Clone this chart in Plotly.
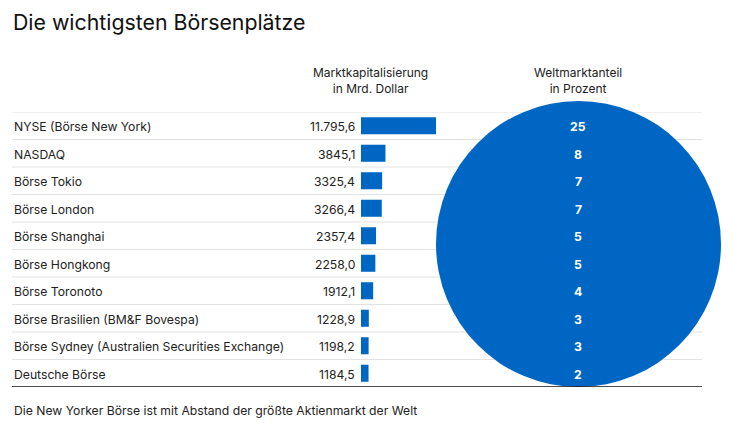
import plotly.graph_objects as go

W, H = 734, 429

boersen = ["NYSE (Börse New York)", "NASDAQ", "Börse Tokio", "Börse London",
           "Börse Shanghai", "Börse Hongkong", "Börse Toronoto",
           "Börse Brasilien (BM&F Bovespa)",
           "Börse Sydney (Australien Securities Exchange)", "Deutsche Börse"]
kapital = [11795.6, 3845.1, 3325.4, 3266.4, 2357.4, 2258.0, 1912.1, 1228.9, 1198.2, 1184.5]
kapital_labels = ["11.795,6", "3845,1", "3325,4", "3266,4", "2357,4", "2258,0",
                  "1912,1", "1228,9", "1198,2", "1184,5"]
anteil = [25, 8, 7, 7, 5, 5, 4, 3, 3, 2]

BLUE = "#0066c3"
FONT = "Inter"
FS = 12.2

def px(x):
    return x / W

def py(y):
    return 1 - y / H

rows = list(range(len(boersen)))
top_px, bot_px = 112, 387

fig = go.Figure()
fig.add_trace(go.Bar(
    x=kapital, y=rows, orientation="h", marker=dict(color=BLUE, line_width=0),
    width=0.62, hoverinfo="skip", showlegend=False))

fig.update_layout(
    width=W, height=H, autosize=False,
    margin=dict(l=0, r=0, t=0, b=0),
    paper_bgcolor="white", plot_bgcolor="rgba(0,0,0,0)",
    font=dict(family=FONT, color="#222"),
    xaxis=dict(domain=[px(361), px(436)], range=[0, kapital[0]], visible=False, fixedrange=True),
    yaxis=dict(domain=[py(bot_px), py(top_px)], range=[len(rows) - 0.5, -0.5],
               visible=False, fixedrange=True),
    bargap=0.4,
)

shapes = []
shapes.append(dict(type="circle", xref="paper", yref="paper",
                   x0=px(436), x1=px(721), y0=py(387), y1=py(101),
                   fillcolor=BLUE, line=dict(width=0), layer="above"))
for i in range(len(rows)):
    shapes.append(dict(type="line", xref="paper", yref="y",
                       x0=px(12), x1=px(702), y0=i - 0.5, y1=i - 0.5,
                       line=dict(color="#e2e2e2", width=1), layer="below"))
shapes.append(dict(type="line", xref="paper", yref="y",
                   x0=px(12), x1=px(702), y0=len(rows) - 0.5, y1=len(rows) - 0.5,
                   line=dict(color="#111", width=1.5), layer="above"))
fig.update_layout(shapes=shapes)

ann = []
ann.append(dict(text="Die wichtigsten Börsenplätze", xref="paper", yref="paper",
                x=px(11), y=py(22), xanchor="left", yanchor="middle", showarrow=False,
                font=dict(size=21.3, color="#111", family=FONT)))
ann.append(dict(text="Marktkapitalisierung<br>in Mrd. Dollar", xref="paper", yref="paper",
                x=px(370), y=py(80), xanchor="center", yanchor="middle", showarrow=False,
                font=dict(size=12, color="#222", family=FONT)))
ann.append(dict(text="Weltmarktanteil<br>in Prozent", xref="paper", yref="paper",
                x=px(578), y=py(80), xanchor="center", yanchor="middle", showarrow=False,
                font=dict(size=12, color="#222", family=FONT)))
ann.append(dict(text="Die New Yorker Börse ist mit Abstand der größte Aktienmarkt der Welt",
                xref="paper", yref="paper", x=px(12), y=py(410), xanchor="left",
                yanchor="middle", showarrow=False, font=dict(size=FS, color="#222", family=FONT)))
for i, (n, v, a) in enumerate(zip(boersen, kapital_labels, anteil)):
    ann.append(dict(text=n, xref="paper", yref="y", x=px(12), y=i + 0.03, xanchor="left",
                    yanchor="middle", showarrow=False, font=dict(size=FS, color="#222", family=FONT)))
    ann.append(dict(text=v, xref="paper", yref="y", x=px(357), y=i + 0.03, xanchor="right",
                    yanchor="middle", showarrow=False, font=dict(size=FS, color="#222", family=FONT)))
    ann.append(dict(text="<b>%d</b>" % a, xref="paper", yref="y", x=px(578), y=i + 0.03,
                    xanchor="center", yanchor="middle", showarrow=False,
                    font=dict(size=FS, color="white", family=FONT)))
fig.update_layout(annotations=ann)

fig.write_html("out.html", config={"displayModeBar": False},
               post_script="document.body.style.margin='0';document.body.style.overflow='hidden';")
